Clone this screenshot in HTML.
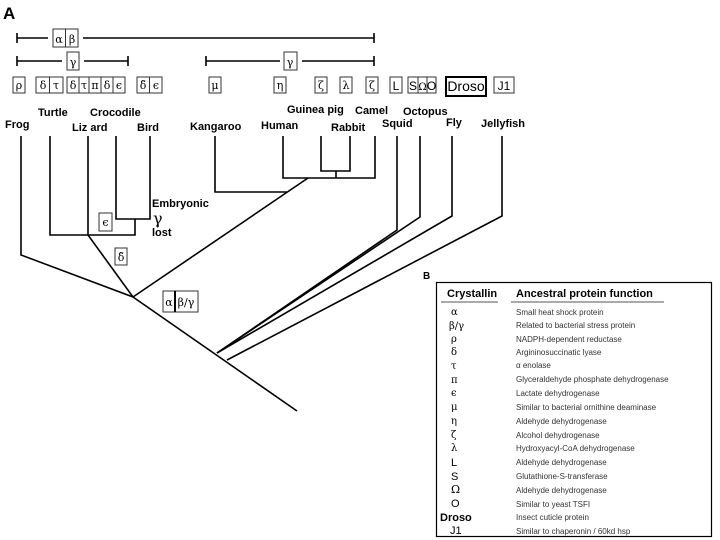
<!DOCTYPE html>
<html><head><meta charset="utf-8"><style>
body{margin:0;width:720px;height:540px;background:#fff;overflow:hidden;font-family:"Liberation Sans",sans-serif}
svg{position:absolute;left:0;top:0}
</style></head><body>
<svg width="720" height="540" viewBox="0 0 720 540" font-family="Liberation Sans, DejaVu Sans, sans-serif">
<g stroke="#000" stroke-width="1.6" fill="none">
<!-- top bars -->
<line x1="17" y1="38" x2="48" y2="38"/><line x1="83" y1="38" x2="374" y2="38"/>
<line x1="17" y1="33" x2="17" y2="43"/><line x1="374" y1="33" x2="374" y2="43"/>
<line x1="17" y1="61" x2="62" y2="61"/><line x1="84" y1="61" x2="128" y2="61"/>
<line x1="17" y1="56" x2="17" y2="66"/><line x1="128" y1="56" x2="128" y2="66"/>
<line x1="206" y1="61" x2="280" y2="61"/><line x1="302" y1="61" x2="374" y2="61"/>
<line x1="206" y1="56" x2="206" y2="66"/><line x1="374" y1="56" x2="374" y2="66"/>
<!-- tree -->
<polyline points="21,136 21,255 133,297"/>
<polyline points="50,136 50,235 135,235 135,219"/>
<line x1="88" y1="136" x2="88" y2="235"/>
<polyline points="116,136 116,219 150,219 150,136"/>
<line x1="88" y1="235" x2="133" y2="297"/>
<polyline points="215,136 215,192 287,192"/>
<polyline points="283,136 283,178 375,178 375,136"/>
<polyline points="321,136 321,171 350,171 350,136"/>
<line x1="336" y1="171" x2="336" y2="178"/>
<line x1="308" y1="178" x2="133" y2="297"/>
<line x1="133" y1="297" x2="297" y2="411"/>
<polyline points="397,136 397,230 217,353"/>
<polyline points="420,136 420,217 217,353"/>
<polyline points="452,136 452,216 217,353"/>
<polyline points="502,136 502,216 227,360"/>
</g>
<g stroke="#333" stroke-width="1" fill="#fff" font-family="DejaVu Serif, Liberation Serif, serif" font-size="11">
<rect x="53" y="29" width="25" height="18"/><line x1="65.5" y1="29" x2="65.5" y2="47"/>
<rect x="67" y="52" width="12" height="18"/>
<rect x="284" y="52" width="13" height="18"/>
<rect x="13" y="77" width="12" height="16"/>
<rect x="36" y="77" width="27" height="16"/><line x1="49.5" y1="77" x2="49.5" y2="93"/>
<rect x="67" y="77" width="58" height="16"/><line x1="79" y1="77" x2="79" y2="93"/><line x1="89" y1="77" x2="89" y2="93"/><line x1="101" y1="77" x2="101" y2="93"/><line x1="113" y1="77" x2="113" y2="93"/>
<rect x="137" y="77" width="25" height="16"/><line x1="149.5" y1="77" x2="149.5" y2="93"/>
<rect x="209" y="77" width="12" height="16"/>
<rect x="274" y="77" width="12" height="16"/>
<rect x="315" y="77" width="12" height="16"/>
<rect x="340" y="77" width="12" height="16"/>
<rect x="366" y="77" width="12" height="16"/>
<rect x="390" y="77" width="12" height="16"/>
<rect x="408" y="77" width="28" height="16"/><line x1="418" y1="77" x2="418" y2="93"/><line x1="427" y1="77" x2="427" y2="93"/>
<rect x="446" y="77" width="40" height="19" stroke="#000" stroke-width="2"/>
<rect x="494" y="77" width="20" height="16"/>
<rect x="99" y="213" width="13" height="18"/>
<rect x="115" y="248" width="12" height="17"/>
<rect x="163" y="291" width="35" height="21"/><line x1="175" y1="291" x2="175" y2="312" stroke="#000" stroke-width="2"/>
<g fill="#000" stroke="none" text-anchor="middle">
<text x="59" y="43">α</text><text x="72" y="43">β</text><text x="73" y="66">γ</text><text x="290" y="66">γ</text>
<text x="19" y="89">ρ</text><text x="43" y="89">δ</text><text x="56" y="89">τ</text>
<text x="73" y="89">δ</text><text x="84" y="89">τ</text><text x="95" y="89">π</text><text x="107" y="89">δ</text><text x="119" y="89">ϵ</text>
<text x="143" y="89">δ̃</text><text x="156" y="89">ϵ</text>
<text x="215" y="89">μ</text><text x="280" y="89">η</text><text x="321" y="89">ζ</text><text x="346" y="89">λ</text><text x="372" y="89">ζ</text>
<text x="105.5" y="226">ϵ</text><text x="121" y="261">δ̃</text>
<text x="169" y="306">α</text><text x="186" y="306">β/γ</text>
</g>
<g fill="#000" stroke="none" text-anchor="middle" font-family="Liberation Sans, sans-serif" font-size="12">
<text x="396" y="90">L</text><text x="413" y="90">S</text><text x="422.5" y="90" font-family="DejaVu Serif, serif" font-size="10">Ω</text><text x="431.5" y="90">O</text>
<text x="466" y="91" font-size="14">Droso</text><text x="504" y="90">J1</text>
</g>
</g>
<g font-weight="bold" font-size="11" fill="#000">
<text x="5" y="128">Frog</text><text x="38" y="116">Turtle</text><text x="72" y="131">Liz ard</text>
<text x="90" y="116">Crocodile</text><text x="137" y="131">Bird</text>
<text x="190" y="130">Kangaroo</text><text x="261" y="129">Human</text><text x="287" y="113">Guinea pig</text>
<text x="355" y="114">Camel</text><text x="331" y="131">Rabbit</text><text x="403" y="115">Octopus</text>
<text x="382" y="127">Squid</text><text x="446" y="126">Fly</text><text x="481" y="127">Jellyfish</text>
<text x="152" y="207">Embryonic</text><text x="152" y="236">lost</text>
<text x="3" y="19" font-size="17">A</text>
<text x="423" y="279" font-size="10">B</text>
</g>
<text x="153" y="224" font-size="16" font-family="DejaVu Serif, serif">γ</text>
<!-- table B -->
<rect x="436.5" y="282.5" width="275" height="254" fill="none" stroke="#000" stroke-width="1.2"/>
<g font-weight="bold" font-size="11"><text x="447" y="297">Crystallin</text><text x="516" y="297">Ancestral protein function</text></g>
<line x1="441" y1="302" x2="498" y2="302" stroke="#555"/><line x1="511" y1="302" x2="664" y2="302" stroke="#555"/>
<g font-size="8" fill="#333">
<text x="516" y="315">Small heat shock protein</text>
<text x="516" y="328">Related to bacterial stress protein</text>
<text x="516" y="342">NADPH-dependent reductase</text>
<text x="516" y="355">Argininosuccinatic lyase</text>
<text x="516" y="368">α enolase</text>
<text x="516" y="382">Glyceraldehyde phosphate dehydrogenase</text>
<text x="516" y="396">Lactate dehydrogenase</text>
<text x="516" y="410">Similar to bacterial ornithine deaminase</text>
<text x="516" y="424">Aldehyde dehydrogenase</text>
<text x="516" y="438">Alcohol dehydrogenase</text>
<text x="516" y="451">Hydroxyacyl-CoA dehydrogenase</text>
<text x="516" y="465">Aldehyde dehydrogenase</text>
<text x="516" y="479">Glutathione-S-transferase</text>
<text x="516" y="493">Aldehyde dehydrogenase</text>
<text x="516" y="507">Similar to yeast TSFI</text>
<text x="516" y="520">Insect cuticle protein</text>
<text x="516" y="534">Similar to chaperonin / 60kd hsp</text>
</g>
<g font-size="10" fill="#000" font-family="DejaVu Serif, serif">
<text x="451" y="315">α</text><text x="449" y="329">β/γ</text><text x="451" y="342">ρ</text><text x="451" y="355">δ</text>
<text x="451" y="369">τ</text><text x="451" y="383">π</text><text x="451" y="396">ϵ</text><text x="451" y="410">μ</text>
<text x="451" y="424">η</text><text x="451" y="438">ζ</text><text x="451" y="451">λ</text>
</g>
<g font-size="11" fill="#000">
<text x="451" y="466">L</text><text x="451" y="480">S</text><text x="451" y="493" font-family="DejaVu Serif, serif">Ω</text><text x="451" y="507">O</text>
<text x="440" y="521" font-weight="bold">Droso</text><text x="450" y="534">J1</text>
</g>
</svg>
</body></html>
